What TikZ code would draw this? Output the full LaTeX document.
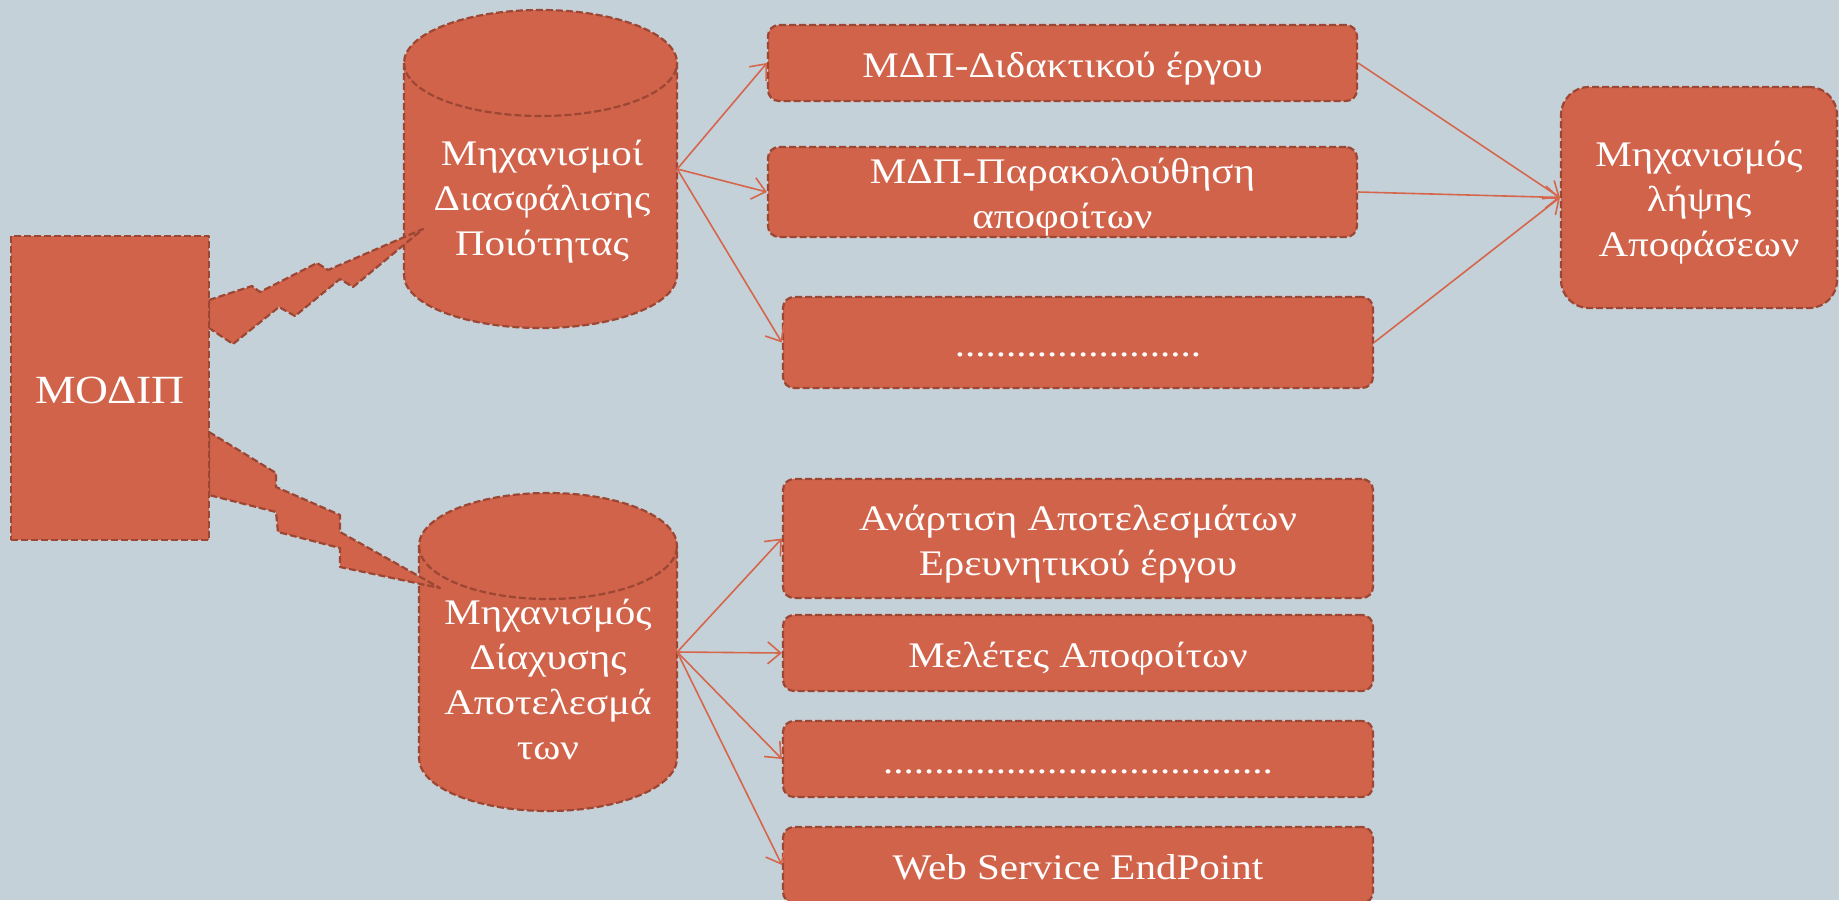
\documentclass[tikz,border=0pt]{standalone}
\usepackage{fontspec}
\setmainfont{Liberation Serif}[FakeStretch=1.14]
\usetikzlibrary{arrows.meta}
\definecolor{slate}{HTML}{C5D1D8}
\definecolor{brick}{HTML}{D1634A}
\definecolor{brickdark}{HTML}{9C4634}
\definecolor{brickline}{HTML}{D5664C}
\newcommand{\lnstrut}{\rule[-0.22em]{0pt}{1.22em}}

\begin{document}
\begin{tikzpicture}[x=1pt,y=-1pt,
  outline/.style={draw=brickdark, line width=2.2pt, dash pattern=on 7pt off 3pt},
  slab/.style={outline, fill=brick, line join=round},
  box/.style={slab, rounded corners=11pt, text=white, align=center, inner sep=0pt,
    font=\fontsize{36}{45}\selectfont, minimum width=590},
  cylframe/.style={draw=none, inner sep=0pt},
  cyltext/.style={text=white, align=center, font=\fontsize{36}{45}\selectfont},
  link/.style={brickline, line width=1.6pt, -{Straight Barb[length=13pt,width=22pt]}}]
\useasboundingbox (0,0) rectangle (1839,900);
\fill[slate] (0,0) rectangle (1839,900);

% cylinders
\filldraw[slab] (404,63) -- (404,275) arc (180:360:136.5pt and 53pt) -- (677,63) arc (0:180:136.5pt and 53pt) -- cycle;
\draw[outline] (404,63) arc (180:360:136.5pt and 53pt);
\node[cylframe, minimum width=273, minimum height=318] (quality) at (540.5,169) {};
\node[cyltext] (qualitytext) at (542,196) {\lnstrut Μηχανισμοί\\Διασφάλισης\\Ποιότητας\lnstrut};

\filldraw[slab] (419,546) -- (419,758) arc (180:360:129pt and 53pt) -- (677,546) arc (0:180:129pt and 53pt) -- cycle;
\draw[outline] (419,546) arc (180:360:129pt and 53pt);
\node[cylframe, minimum width=258, minimum height=318] (spread) at (548,652) {};
\node[cyltext] (spreadtext) at (548,677.5) {\lnstrut Μηχανισμός\\Δίαχυσης\\Αποτελεσμά\\των\lnstrut};

% bolts
\filldraw[slab] (209,300) -- (252,286) -- (260,292) -- (317,263) -- (328,270) -- (423,229)
  -- (353,287) -- (340,279) -- (295,316) -- (279,307) -- (233,344) -- (209,328) -- cycle;
\filldraw[slab] (209,432) -- (276,473) -- (276,487) -- (340,515) -- (340,532) -- (440,588)
  -- (340,567) -- (340,548) -- (278,532) -- (276,512) -- (209,495) -- cycle;

\node[slab, text=white, inner sep=0pt, minimum width=198, minimum height=304,
  font=\fontsize{40}{48}\selectfont] (modip) at (110,388) {\lnstrut ΜΟΔΙΠ};

% boxes
\node[box, minimum width=589, minimum height=76] (mdpdid) at (1062.5,63) {\lnstrut ΜΔΠ-Διδακτικού έργου};
\node[box, minimum width=589, minimum height=90] (mdpgrad) at (1062.5,192) {\lnstrut ΜΔΠ-Παρακολούθηση\\αποφοίτων\lnstrut};
\node[box, minimum height=91] (mdpmore) at (1078,342.5) {\lnstrut ........................};
\node[box, minimum width=276, minimum height=221, rounded corners=28pt] (decide) at (1699,197.5) {\lnstrut Μηχανισμός\\λήψης\\Αποφάσεων\lnstrut};

\node[box, minimum height=119] (publish) at (1078,538.5) {\lnstrut Ανάρτιση Αποτελεσμάτων\\Ερευνητικού έργου\lnstrut};
\node[box, minimum height=76] (studies) at (1078,653) {\lnstrut Μελέτες Αποφοίτων};
\node[box, minimum height=76] (spreadmore) at (1078,759) {\lnstrut ......................................};
\node[box, minimum height=76] (endpoint) at (1078,865) {\lnstrut Web Service EndPoint};

% links
\draw[link] (quality.east) -- (mdpdid.west);
\draw[link] (quality.east) -- (mdpgrad.west);
\draw[link] (quality.east) -- (mdpmore.west);
\draw[link] (mdpdid.east) -- (decide.west);
\draw[link] (mdpgrad.east) -- (decide.west);
\draw[link] (mdpmore.east) -- (decide.west);
\draw[link] (spread.east) -- (publish.west);
\draw[link] (spread.east) -- (studies.west);
\draw[link] (spread.east) -- (spreadmore.west);
\draw[link] (spread.east) -- (endpoint.west);
\end{tikzpicture}
\end{document}
